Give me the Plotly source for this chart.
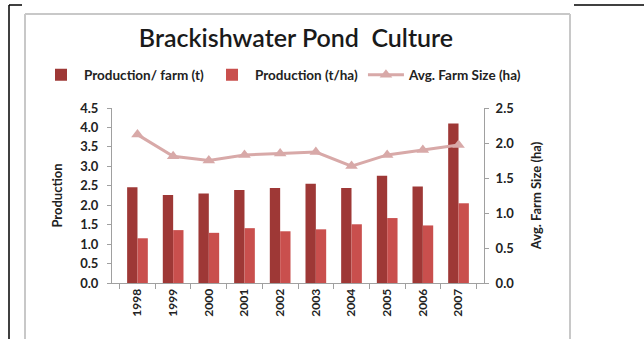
import plotly.graph_objects as go

years = ["1998", "1999", "2000", "2001", "2002", "2003", "2004", "2005", "2006", "2007"]
prod_per_farm = [2.46, 2.26, 2.30, 2.39, 2.44, 2.55, 2.44, 2.76, 2.48, 4.10]
prod_per_ha = [1.15, 1.36, 1.29, 1.41, 1.33, 1.38, 1.51, 1.67, 1.48, 2.05]
farm_size = [2.12, 1.81, 1.75, 1.83, 1.85, 1.87, 1.67, 1.83, 1.90, 1.97]

W, H = 644, 339
L, R, T, B = 112, 160, 108, 56
pw, ph = W - L - R, H - T - B

def px(x):
    return (x - L) / pw

def py(y):
    return (H - B - y) / ph

FONT = "Lato, Open Sans, sans-serif"

fig = go.Figure()
fig.add_trace(go.Bar(x=years, y=prod_per_farm, name="Production/ farm (t)",
                     marker=dict(color="#9e3836", line=dict(width=0))))
fig.add_trace(go.Bar(x=years, y=prod_per_ha, name="Production (t/ha)",
                     marker=dict(color="#c94f4d", line=dict(width=0))))
fig.add_trace(go.Scatter(x=years, y=farm_size, name="Avg. Farm Size (ha)", yaxis="y2",
                         mode="lines+markers",
                         line=dict(color="#d8a9a8", width=3),
                         marker=dict(symbol="triangle-up", size=11, color="#d8a9a8")))

axfont = dict(family=FONT, size=13, color="#222", weight="bold")
tickf = dict(family=FONT, size=13, color="#222", weight="bold")
fig.update_layout(
    width=W, height=H,
    margin=dict(l=L, r=R, t=T, b=B, autoexpand=False),
    paper_bgcolor="white", plot_bgcolor="white",
    barmode="group", bargap=0.42, bargroupgap=0,
    title=dict(text="Brackishwater Pond  Culture", x=(296) / W, xanchor="center",
               y=1 - 38 / H, yanchor="middle",
               font=dict(family=FONT, size=25, color="#1a1a1a", weight=600)),
    legend=dict(orientation="h", x=px(38), xanchor="left", y=py(75), yanchor="middle",
                font=dict(family=FONT, size=13.5, color="#222", weight="bold"),
                itemwidth=36, traceorder="normal", bgcolor="rgba(0,0,0,0)",
                entrywidthmode="pixels", entrywidth=0),
    xaxis=dict(type="category", tickangle=-90, tickson="boundaries", ticks="outside", ticklen=5,
               tickcolor="#a0a0a0", showline=True, linecolor="#a0a0a0", linewidth=1,
               showgrid=False, tickfont=dict(family=FONT, size=12, color="#222", weight="bold"),
               fixedrange=True, automargin=False),
    yaxis=dict(range=[0, 4.5], dtick=0.5, tickformat=".1f", ticks="outside", ticklen=4,
               tickcolor="#a0a0a0", showline=True, linecolor="#a0a0a0", showgrid=False,
               zeroline=False, tickfont=tickf, ticklabelstandoff=6, automargin=False,
               title=dict(text="Production", font=axfont, standoff=14)),
    yaxis2=dict(range=[0, 2.5], dtick=0.5, tickformat=".1f", overlaying="y", side="right",
                ticks="outside", ticklen=4, tickcolor="#a0a0a0", showline=True, linecolor="#a0a0a0",
                showgrid=False, zeroline=False, tickfont=tickf, ticklabelstandoff=4, automargin=False,
                title=dict(text="Avg. Farm Size (ha)", font=axfont, standoff=18)),
    shapes=[
        dict(type="line", xref="paper", yref="paper", x0=px(9), x1=px(9), y0=py(5), y1=py(339),
             line=dict(color="black", width=1.5)),
        dict(type="line", xref="paper", yref="paper", x0=px(9), x1=px(22), y0=py(5), y1=py(5),
             line=dict(color="black", width=1.5)),
        dict(type="line", xref="paper", yref="paper", x0=px(574), x1=px(644), y0=py(5), y1=py(5),
             line=dict(color="black", width=1.5)),
        dict(type="line", xref="paper", yref="paper", x0=px(25), x1=px(25), y0=py(14), y1=py(339),
             line=dict(color="#c8c8c8", width=2)),
        dict(type="line", xref="paper", yref="paper", x0=px(25), x1=px(570), y0=py(14), y1=py(14),
             line=dict(color="#c8c8c8", width=2)),
        dict(type="line", xref="paper", yref="paper", x0=px(570), x1=px(570), y0=py(14), y1=py(339),
             line=dict(color="#c8c8c8", width=2)),
    ],
)
fig.write_html("out.html")
